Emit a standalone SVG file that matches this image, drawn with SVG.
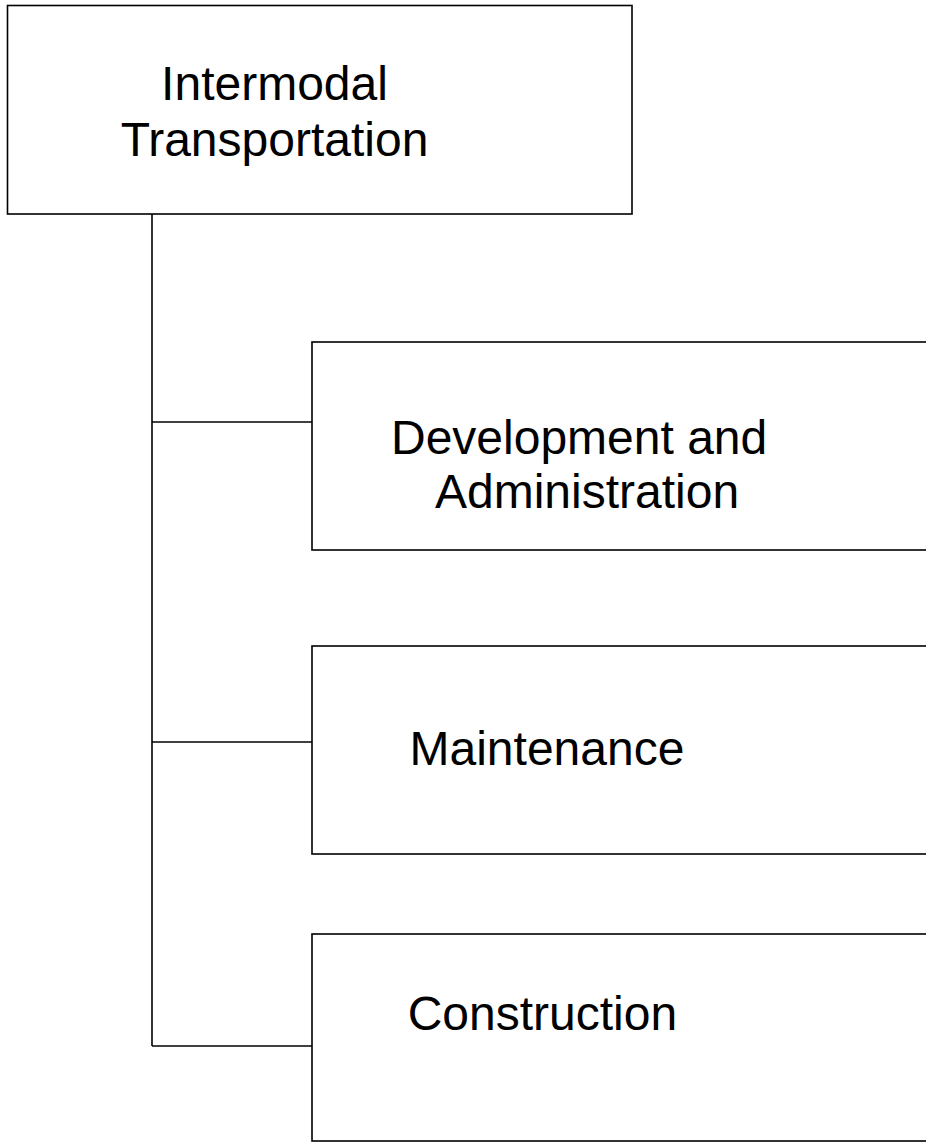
<svg xmlns="http://www.w3.org/2000/svg" width="926" height="1142" viewBox="0 0 926 1142">
<style>
.box{fill:#fff;stroke:#000;stroke-width:1.6}
.conn{stroke:#000;stroke-width:1.6;fill:none}
text{font-family:"Liberation Sans",Arial,sans-serif;font-size:48px;fill:#000}
</style>
<rect x="0" y="0" width="926" height="1142" fill="#fff"/>
<g id="connectors">
<line class="conn" x1="152" y1="214" x2="152" y2="1046"/>
<line class="conn" x1="152" y1="422" x2="312" y2="422"/>
<line class="conn" x1="152" y1="742" x2="312" y2="742"/>
<line class="conn" x1="152" y1="1046" x2="312" y2="1046"/>
</g>
<g id="node-intermodal">
<rect class="box" x="7.5" y="5.5" width="624.5" height="208.5"/>
<text x="274.5" y="99.5" text-anchor="middle">Intermodal</text>
<text x="274.5" y="156" text-anchor="middle">Transportation</text>
</g>
<g id="node-development">
<rect class="box" x="312" y="342" width="700" height="208"/>
<text x="391" y="454">Development and</text>
<text x="435" y="507.5">Administration</text>
</g>
<g id="node-maintenance">
<rect class="box" x="312" y="646" width="700" height="208"/>
<text x="409.5" y="765">Maintenance</text>
</g>
<g id="node-construction">
<rect class="box" x="312" y="934" width="700" height="207"/>
<text x="407.7" y="1030">Construction</text>
</g>
</svg>
